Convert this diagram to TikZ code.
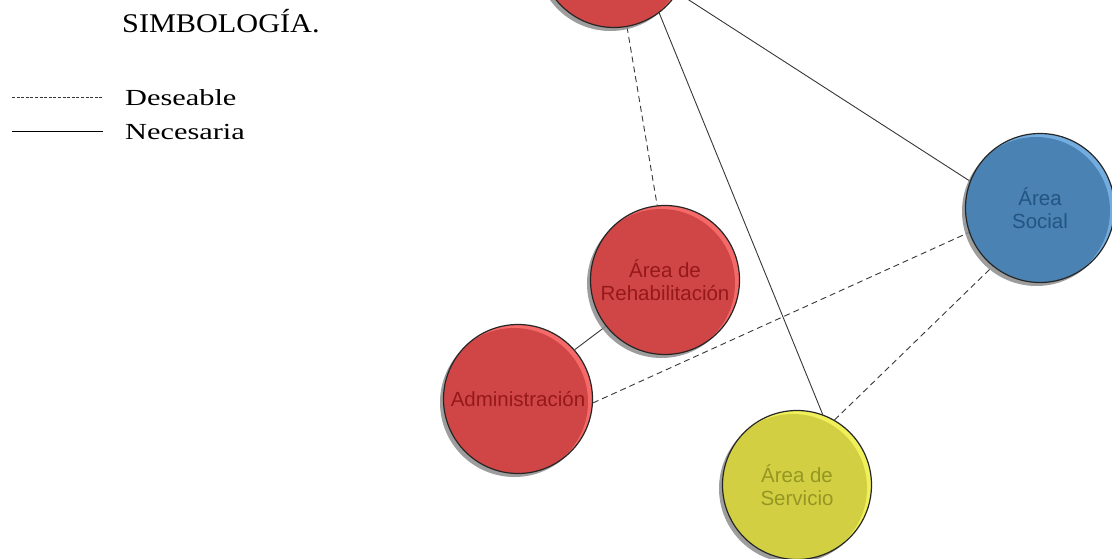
\documentclass[tikz,border=0pt]{standalone}
\usepackage{fontspec}
\setsansfont{Liberation Sans}
\newfontfamily\legtitle[FakeStretch=1.12]{Liberation Serif}
\newfontfamily\legitem[FakeStretch=1.32]{Liberation Serif}
\usetikzlibrary{backgrounds,shadows}
\definecolor{redmain}{RGB}{208,70,70}
\definecolor{redlight}{RGB}{245,105,105}
\definecolor{redtext}{RGB}{150,25,25}
\definecolor{yelmain}{RGB}{210,208,66}
\definecolor{yellight}{RGB}{240,240,90}
\definecolor{yeltext}{RGB}{150,150,35}
\definecolor{bluemain}{RGB}{74,130,180}
\definecolor{bluelight}{RGB}{115,172,222}
\definecolor{bluetext}{RGB}{35,85,130}
\definecolor{linecol}{RGB}{55,55,55}
\tikzset{
  bub/.style n args={2}{circle, minimum size=149pt, inner sep=0pt, draw=black!85, line width=1.2pt,
    drop shadow={shadow xshift=-3.5pt, shadow yshift=-3.5pt, fill=black!45, opacity=0.85},
    align=center, font=\sffamily\fontsize{20.5}{23}\selectfont,
    path picture={
      \fill[#2] (path picture bounding box.center) circle (76pt);
      \fill[#1] ([xshift=-4pt,yshift=-3pt]path picture bounding box.center) circle (74pt);
    }},
  necline/.style={draw=linecol, line width=0.9pt},
  desline/.style={draw=linecol, line width=0.9pt, dash pattern=on 6pt off 4pt},
}
\begin{document}
\begin{tikzpicture}[x=1pt,y=-1pt]
\useasboundingbox (0,0) rectangle (1112,559);
% legend
\node[anchor=base west, inner sep=0pt, font=\legtitle\fontsize{27}{30}\selectfont] (leg) at (122,33) {SIMBOLOGÍA.};
\node[anchor=base west, inner sep=0pt, font=\legitem\fontsize{23}{26}\selectfont] (des) at (125,106) {Deseable};
\node[anchor=base west, inner sep=0pt, font=\legitem\fontsize{23}{26}\selectfont] (nec) at (125,140) {Necesaria};
\coordinate (d1) at (12,97);
\coordinate (d2) at (102,97);
\coordinate (n1) at (12,131);
\coordinate (n2) at (103,131);
\draw[draw=linecol, line width=0.6pt, dash pattern=on 3pt off 1.6pt] (d1) -- (d2);
\draw[draw=black, line width=0.8pt] (n1) -- (n2);
% bubbles
\node[bub={redmain}{redlight}] (top) at (614,-47) {};
\node[bub={redmain}{redlight}, text=redtext] (rehab) at (665,280) {Área de\\Rehabilitación};
\node[bub={redmain}{redlight}, text=redtext] (admin) at (518,399) {Administración};
\node[bub={yelmain}{yellight}, text=yeltext] (serv) at (797,485) {Área de\\Servicio};
\node[bub={bluemain}{bluelight}, text=bluetext] (soc) at (1040,208) {Área\\Social};
% connectors
\begin{scope}[on background layer]
\draw[desline] (top.-80) -- (rehab.96);
\draw[necline] (top.-53) -- (serv.70);
\draw[necline] (top.-32) -- (soc.159);
\draw[necline] (rehab.-142) -- (admin.41);
\draw[desline] (admin.-3) -- (soc.-161);
\draw[desline] (serv.60) -- (soc.-129);
\end{scope}
\end{tikzpicture}
\end{document}
